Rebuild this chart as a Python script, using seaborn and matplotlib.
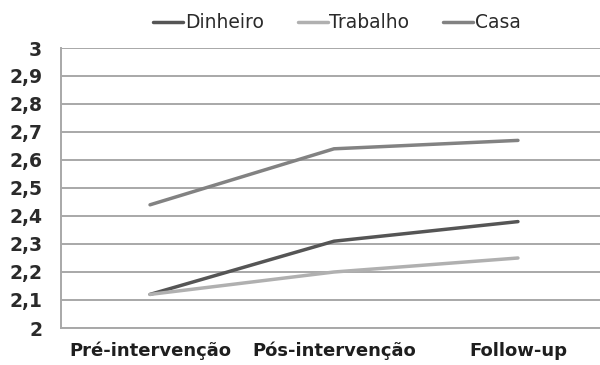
import pandas as pd
import matplotlib
matplotlib.use("Agg")
import matplotlib.pyplot as plt
import matplotlib.ticker as mticker
import seaborn as sns

# data
fases = ["Pré-intervenção", "Pós-intervenção", "Follow-up"]
dinheiro = [2.12, 2.31, 2.38]
trabalho = [2.12, 2.20, 2.25]
casa = [2.44, 2.64, 2.67]
series = ["Dinheiro", "Trabalho", "Casa"]
cores = ["#555555", "#b0b0b0", "#828282"]

df = pd.DataFrame({
    "fase": fases * 3,
    "pos": list(range(3)) * 3,
    "valor": dinheiro + trabalho + casa,
    "serie": [s for s in series for _ in fases],
})

sns.set_style("white")
plt.rcParams["font.family"] = ["DejaVu Sans"]

fig = plt.figure(figsize=(6, 3.65), dpi=100)
ax = fig.add_axes([61 / 600, 37 / 365, 1 - 61 / 600, 280 / 365])

sns.lineplot(data=df, x="pos", y="valor", hue="serie", hue_order=series,
             palette=cores, linewidth=2.5, ax=ax, legend=True)

ax.set_xlim(-0.484, 2.446)
ax.set_ylim(2, 3)
ax.set_yticks([2 + i / 10 for i in range(11)])
ax.yaxis.set_major_formatter(mticker.FuncFormatter(
    lambda v, p: f"{v:.1f}".replace(".", ",").replace(",0", "")))
ax.set_xticks(range(3))
ax.set_xticklabels(fases, fontweight="bold", fontsize=13)
ax.set_xlabel("")
ax.set_ylabel("")
ax.grid(axis="y", color="#a8a8a8", linewidth=1.4)
ax.set_axisbelow(True)

for s in ["top", "right"]:
    ax.spines[s].set_visible(False)
for s in ["left", "bottom"]:
    ax.spines[s].set_color("#a8a8a8")
    ax.spines[s].set_linewidth(1.4)

ax.tick_params(axis="y", length=6.5, width=1.4, color="#a8a8a8",
               labelsize=13.5, pad=7)
ax.tick_params(axis="x", length=0, pad=10)
for t in ax.get_yticklabels():
    t.set_fontweight("bold")
    t.set_color("#2a2a2a")
for t in ax.get_xticklabels():
    t.set_color("#1e1e1e")

leg = ax.legend(loc="center", bbox_to_anchor=(0.512, 1.09), ncol=3,
                frameon=False, fontsize=13.5, handlelength=1.6,
                handletextpad=0.1, columnspacing=1.8, borderaxespad=0)
for t in leg.get_texts():
    t.set_color("#2a2a2a")

fig.savefig("out.png", dpi=100)
